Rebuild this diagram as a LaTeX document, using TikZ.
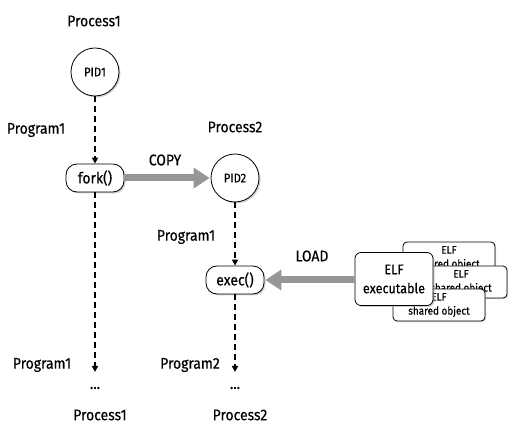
\documentclass[tikz,border=0pt]{standalone}
\usepackage{fontspec}
\setmainfont{Fira Sans}[FakeStretch=0.9,FakeBold=0.3]
\usetikzlibrary{arrows.meta,shadows,positioning}
\definecolor{arrgray}{RGB}{150,150,150}
\tikzset{
  lbl/.style={font=\fontsize{15.5}{17}\selectfont, inner sep=0pt},
  pid/.style={circle, draw, thick, fill=white, minimum size=48pt, inner sep=0pt, font=\fontsize{12.5}{14}\selectfont,
    drop shadow={shadow xshift=1.5pt, shadow yshift=-1.5pt, fill=black!35}},
  call/.style={rounded corners=11pt, draw, thick, fill=white, minimum width=58pt, minimum height=28pt, inner sep=0pt,
    font=\fontsize{15.5}{17}\selectfont, drop shadow={shadow xshift=1.5pt, shadow yshift=-1.5pt, fill=black!35}},
  sobox/.style={rounded corners=4pt, draw, thick, fill=white, minimum width=92pt, minimum height=32pt, inner sep=0pt,
    font=\fontsize{11}{14}\selectfont, align=center,
    drop shadow={shadow xshift=1.2pt, shadow yshift=-1.2pt, fill=black!30}},
  elfbox/.style={rounded corners=6pt, draw, thick, fill=white, minimum width=78pt, minimum height=53pt, inner sep=0pt,
    font=\fontsize{14}{19}\selectfont, align=center,
    drop shadow={shadow xshift=1.5pt, shadow yshift=-1.5pt, fill=black!35}},
  flow/.style={line width=1.8pt, dash pattern=on 6pt off 4pt, -{Triangle[length=6pt,width=6pt]}},
  big/.style={line width=7pt, draw=arrgray, -{Triangle[length=16pt,width=20pt,fill=arrgray]}, shorten >=1pt},
}
\begin{document}
\begin{tikzpicture}[x=1pt,y=-1pt]
\useasboundingbox (0,0) rectangle (512,438);
% column 1
\node[lbl] (proc1) at (94,21) {Process1};
\node[pid] (pid1) at (95,72) {PID1};
\node[lbl] (prog1a) at (36,130) {Program1};
\node[call] (fork) at (95,178) {fork()};
\coordinate (end1) at (95,372);
\node[lbl] (prog1b) at (42,365) {Program1};
\node[lbl] (dots1) at (95,388) {...};
\node[lbl] (proc1b) at (100,415) {Process1};
% column 2
\node[lbl] (proc2) at (235,127) {Process2};
\node[pid] (pid2) at (235,178) {PID2};
\node[lbl] (prog1c) at (186,237) {Program1};
\node[call] (exec) at (235,280) {exec()};
\coordinate (end2) at (235,372);
\node[lbl] (prog2) at (190,365) {Program2};
\node[lbl] (dots2) at (235,388) {...};
\node[lbl] (proc2b) at (240,415) {Process2};
% ELF stack
\node[sobox] (so1) at (449,258) {ELF\\shared object};
\node[sobox] (so2) at (461,282) {ELF\\shared object};
\node[sobox] (so3) at (439,305) {ELF\\shared object};
\node[elfbox] (elf) at (394,279) {ELF\\executable};
% labels
\node[lbl] (copy) at (165,160) {COPY};
\node[lbl] (load) at (312,256) {LOAD};
% connectors
\draw[flow] (pid1) -- (fork);
\draw[flow] (fork) -- (end1);
\draw[flow] (pid2) -- (exec);
\draw[flow] (exec) -- (end2);
\draw[big] (fork) -- (pid2);
\draw[big] (elf.west |- exec) -- (exec);
\end{tikzpicture}
\end{document}
